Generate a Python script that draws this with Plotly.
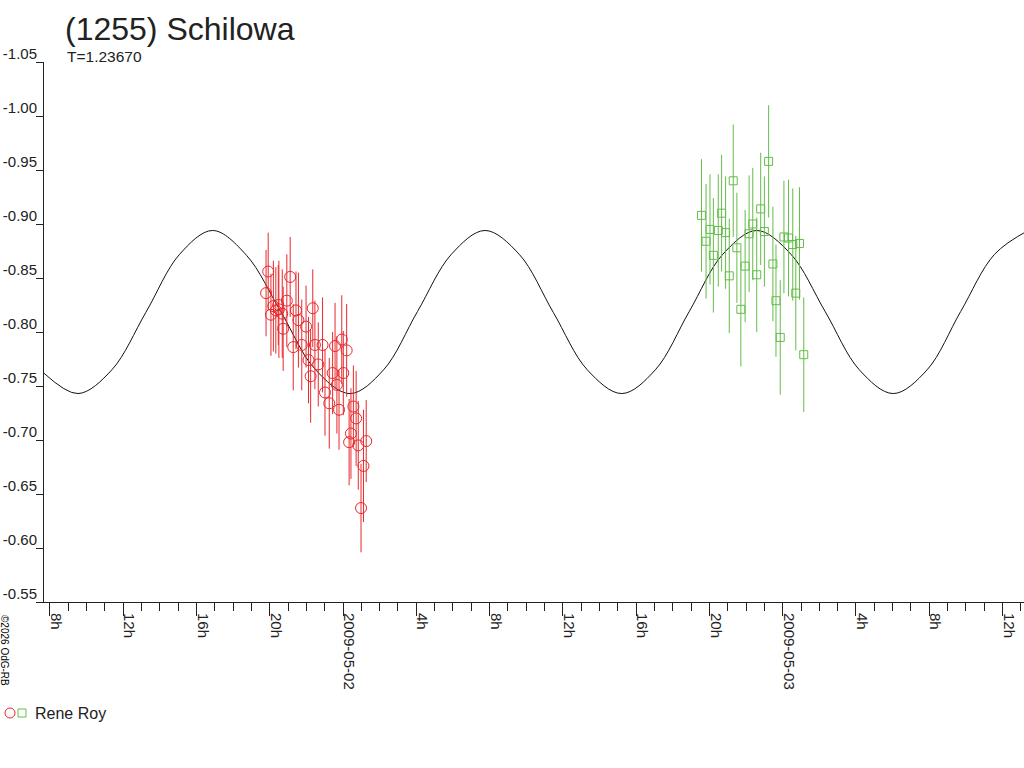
import plotly.graph_objects as go

# -----------------------------
# Data
# -----------------------------
curve_time = [
    "2009-05-01 07:40", "2009-05-01 09:32", "2009-05-01 11:23", "2009-05-01 13:14",
    "2009-05-01 15:05", "2009-05-01 16:53", "2009-05-01 18:44", "2009-05-01 20:36",
    "2009-05-01 22:27", "2009-05-02 00:23", "2009-05-02 02:13", "2009-05-02 04:04",
    "2009-05-02 05:55", "2009-05-02 07:45", "2009-05-02 09:37", "2009-05-02 11:29",
    "2009-05-02 13:20", "2009-05-02 15:13", "2009-05-02 17:03", "2009-05-02 18:54",
    "2009-05-02 20:44", "2009-05-02 22:35", "2009-05-03 00:27", "2009-05-03 02:19",
    "2009-05-03 04:11", "2009-05-03 06:02", "2009-05-03 07:53", "2009-05-03 09:43",
    "2009-05-03 11:34", "2009-05-03 13:24",
]
curve_mag = [
    -0.762, -0.743, -0.765, -0.818, -0.872, -0.894, -0.871, -0.819,
    -0.766, -0.743, -0.765, -0.819, -0.872, -0.894, -0.872, -0.818,
    -0.765, -0.743, -0.765, -0.819, -0.872, -0.894, -0.872, -0.819,
    -0.765, -0.743, -0.765, -0.819, -0.872, -0.894,
]

red_time = [
    "2009-05-01 19:48", "2009-05-01 19:55", "2009-05-01 20:04", "2009-05-01 20:12",
    "2009-05-01 20:20", "2009-05-01 20:28", "2009-05-01 20:30", "2009-05-01 20:41",
    "2009-05-01 20:44", "2009-05-01 20:56", "2009-05-01 21:07", "2009-05-01 21:17",
    "2009-05-01 21:26", "2009-05-01 21:34", "2009-05-01 21:45", "2009-05-01 21:59",
    "2009-05-01 22:07", "2009-05-01 22:14", "2009-05-01 22:21", "2009-05-01 22:28",
    "2009-05-01 22:39", "2009-05-01 22:53", "2009-05-01 23:01", "2009-05-01 23:15",
    "2009-05-01 23:26", "2009-05-01 23:34", "2009-05-01 23:40", "2009-05-01 23:47",
    "2009-05-01 23:56", "2009-05-02 00:01", "2009-05-02 00:12", "2009-05-02 00:20",
    "2009-05-02 00:26", "2009-05-02 00:34", "2009-05-02 00:43", "2009-05-02 00:50",
    "2009-05-02 00:59", "2009-05-02 01:07", "2009-05-02 01:16",
]
red_mag = [
    -0.836, -0.856, -0.816, -0.824, -0.820, -0.825, -0.821, -0.817,
    -0.803, -0.829, -0.851, -0.786, -0.820, -0.811, -0.788, -0.805,
    -0.774, -0.759, -0.822, -0.788, -0.770, -0.788, -0.744, -0.734,
    -0.762, -0.787, -0.751, -0.728, -0.793, -0.762, -0.783, -0.698,
    -0.706, -0.731, -0.720, -0.695, -0.637, -0.676, -0.699,
]
red_err = [
    0.040, 0.036, 0.038, 0.042, 0.040, 0.037, 0.045, 0.041,
    0.039, 0.043, 0.037, 0.040, 0.036, 0.044, 0.042, 0.038,
    0.040, 0.043, 0.036, 0.041, 0.039, 0.044, 0.040, 0.042,
    0.038, 0.040, 0.045, 0.037, 0.041, 0.039, 0.043, 0.040,
    0.042, 0.038, 0.044, 0.041, 0.041, 0.052, 0.038,
]

green_time = [
    "2009-05-02 19:34", "2009-05-02 19:49", "2009-05-02 20:02", "2009-05-02 20:13",
    "2009-05-02 20:29", "2009-05-02 20:40", "2009-05-02 20:53", "2009-05-02 21:05",
    "2009-05-02 21:18", "2009-05-02 21:30", "2009-05-02 21:43", "2009-05-02 21:57",
    "2009-05-02 22:10", "2009-05-02 22:22", "2009-05-02 22:35", "2009-05-02 22:48",
    "2009-05-02 23:00", "2009-05-02 23:14", "2009-05-02 23:28", "2009-05-02 23:38",
    "2009-05-02 23:52", "2009-05-03 00:04", "2009-05-03 00:19", "2009-05-03 00:33",
    "2009-05-03 00:43", "2009-05-03 00:55", "2009-05-03 01:09",
]
green_mag = [
    -0.908, -0.884, -0.895, -0.871, -0.894, -0.910, -0.892, -0.852,
    -0.940, -0.878, -0.821, -0.861, -0.891, -0.900, -0.853, -0.914,
    -0.893, -0.958, -0.863, -0.829, -0.795, -0.888, -0.887, -0.881,
    -0.836, -0.882, -0.779,
]
green_err = [
    0.052, 0.053, 0.051, 0.053, 0.052, 0.054, 0.052, 0.053,
    0.052, 0.051, 0.053, 0.052, 0.054, 0.052, 0.053, 0.052,
    0.051, 0.052, 0.053, 0.052, 0.053, 0.052, 0.054, 0.052,
    0.053, 0.052, 0.053,
]

x_tickvals = [
    "2009-05-01 08:00", "2009-05-01 12:00", "2009-05-01 16:00", "2009-05-01 20:00",
    "2009-05-02 00:00", "2009-05-02 04:00", "2009-05-02 08:00", "2009-05-02 12:00",
    "2009-05-02 16:00", "2009-05-02 20:00", "2009-05-03 00:00", "2009-05-03 04:00",
    "2009-05-03 08:00", "2009-05-03 12:00",
]
x_ticktext = ["8h", "12h", "16h", "20h", "2009-05-02", "4h", "8h", "12h",
              "16h", "20h", "2009-05-03", "4h", "8h", "12h"]

y_tickvals = [-1.05, -1.00, -0.95, -0.90, -0.85, -0.80, -0.75, -0.70, -0.65, -0.60, -0.55]
y_ticktext = ["-1.05", "-1.00", "-0.95", "-0.90", "-0.85", "-0.80",
              "-0.75", "-0.70", "-0.65", "-0.60", "-0.55"]

RED = "#e8282c"
GREEN = "#62bd48"
TXT = "#222222"
FONT = "Liberation Sans, Arial, sans-serif"

# plot area in pixels (for placing the loose texts)
W, H = 1024, 768
L, R, T, B = 44, 0, 62, 166


def px(x):
    return (x - L) / (W - L - R)


def py(y):
    return (H - B - y) / (H - T - B)


# -----------------------------
# Plot
# -----------------------------
fig = go.Figure()

fig.add_trace(go.Scatter(
    x=curve_time, y=curve_mag,
    mode="lines",
    line=dict(color="#111111", width=1, shape="spline"),
    showlegend=False,
))

fig.add_trace(go.Scatter(
    x=red_time, y=red_mag,
    mode="markers",
    marker=dict(symbol="circle-open", size=11, color=RED, line=dict(width=1)),
    error_y=dict(type="data", array=red_err, color=RED, thickness=1, width=0),
    showlegend=False,
))

fig.add_trace(go.Scatter(
    x=green_time, y=green_mag,
    mode="markers",
    marker=dict(symbol="square-open", size=8, color=GREEN, line=dict(width=1)),
    error_y=dict(type="data", array=green_err, color=GREEN, thickness=1, width=0),
    showlegend=False,
))

fig.update_layout(
    width=W, height=H,
    margin=dict(l=L, r=R, t=T, b=B),
    paper_bgcolor="white",
    plot_bgcolor="white",
    font=dict(family=FONT, size=15, color=TXT),
    title=dict(
        text="(1255) Schilowa",
        x=65 / W, xref="container", xanchor="left",
        y=1 - 29 / H, yref="container", yanchor="middle",
        font=dict(size=32, color=TXT),
    ),
    xaxis=dict(
        range=["2009-05-01 07:40:44", "2009-05-03 13:10:20"],
        tickmode="array", tickvals=x_tickvals, ticktext=x_ticktext,
        tickangle=90, ticks="outside", ticklen=13, tickcolor=TXT,
        ticklabelshift=6, ticklabelstandoff=-6,
        minor=dict(tickmode="linear", tick0="2009-05-01 00:00", dtick=3600000,
                   ticks="outside", ticklen=8, tickcolor=TXT, showgrid=False),
        showline=True, linecolor=TXT, linewidth=1,
        showgrid=False, zeroline=False,
    ),
    yaxis=dict(
        range=[-0.55, -1.05],
        tickmode="array", tickvals=y_tickvals, ticktext=y_ticktext,
        ticks="outside", ticklen=7, tickcolor=TXT,
        ticklabelposition="outside top", ticklabelstandoff=3, ticklabelshift=-3,
        showline=True, linecolor=TXT, linewidth=1,
        showgrid=False, zeroline=False,
    ),
)

annotations = [
    dict(text="T=1.23670", x=px(65), y=py(57), xanchor="left", yanchor="middle",
         font=dict(size=15.5, color=TXT)),
    dict(text="Rene Roy", x=px(33), y=py(713), xanchor="left", yanchor="middle",
         font=dict(size=16, color=TXT)),
    dict(text="©2026 OdG-RB", x=px(5), y=py(650), textangle=90,
         xanchor="center", yanchor="middle", font=dict(size=10, color="#000000")),
]
for a in annotations:
    a.update(xref="paper", yref="paper", showarrow=False)
fig.update_layout(annotations=annotations)

# legend symbols drawn by hand (one observer, two sessions)
fig.add_shape(type="circle", xref="paper", yref="paper",
              xsizemode="pixel", ysizemode="pixel",
              xanchor=px(10), yanchor=py(713), x0=-5, x1=5, y0=-5, y1=5,
              line=dict(color=RED, width=1))
fig.add_shape(type="rect", xref="paper", yref="paper",
              xsizemode="pixel", ysizemode="pixel",
              xanchor=px(22), yanchor=py(713), x0=-4, x1=4, y0=-4, y1=4,
              line=dict(color=GREEN, width=1))

# page has a default 8px body margin; drop it so the figure sits at 0,0
fig.write_html("out.html", config={"displayModeBar": False},
               post_script="document.body.style.margin='0';")
